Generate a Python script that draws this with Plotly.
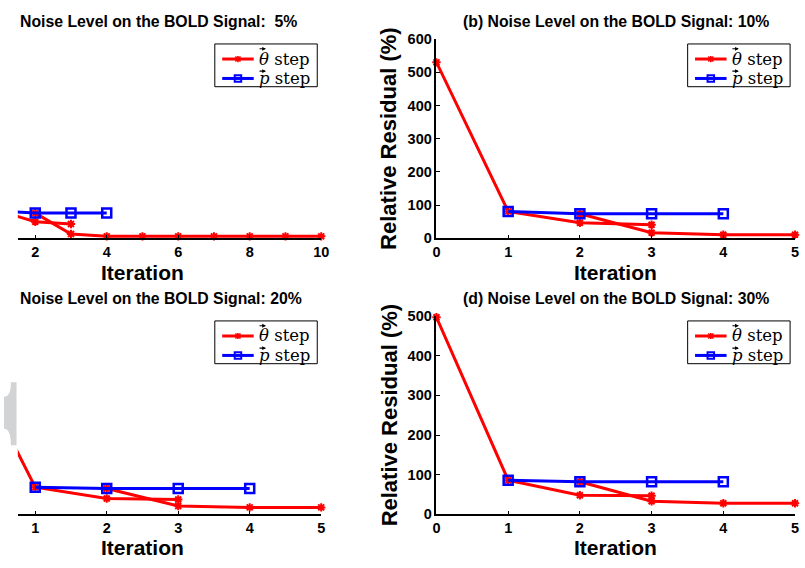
import plotly.graph_objects as go

W, H = 805, 568

# ---------------- data ----------------
# (a) 5% noise
a_theta1_x = [1, 2, 3]
a_theta1_y = [82, 50, 43]
a_theta2_x = [2, 3, 4, 5, 6, 7, 8, 9, 10]
a_theta2_y = [76, 13, 6, 6, 6, 6, 6, 6, 6]
a_p_x = [1, 2, 3, 4]
a_p_y = [82, 76, 76, 76]
# (b) 10% noise
b_theta1_x = [0, 1, 2, 3]
b_theta1_y = [530, 81, 47, 41]
b_theta2_x = [2, 3, 4, 5]
b_theta2_y = [74, 17, 11, 11]
b_p_x = [1, 2, 3, 4]
b_p_y = [81, 74, 74, 74]
# (c) 20% noise
c_theta1_x = [0, 1, 2, 3]
c_theta1_y = [510, 82, 48, 45]
c_theta2_x = [2, 3, 4, 5]
c_theta2_y = [78, 25, 21, 21]
c_p_x = [1, 2, 3, 4]
c_p_y = [82, 78, 78, 78]
# (d) 30% noise
d_theta1_x = [0, 1, 2, 3]
d_theta1_y = [497, 86, 48, 47]
d_theta2_x = [2, 3, 4, 5]
d_theta2_y = [82, 33, 28, 28]
d_p_x = [1, 2, 3, 4]
d_p_y = [86, 82, 82, 82]

titles = ["Noise Level on the BOLD Signal:  5%",
          "(b) Noise Level on the BOLD Signal: 10%",
          "Noise Level on the BOLD Signal: 20%",
          "(d) Noise Level on the BOLD Signal: 30%"]
a_xticks = [2, 4, 6, 8, 10]
c_xticks = [1, 2, 3, 4, 5]
bd_xticks = [0, 1, 2, 3, 4, 5]
b_yticks = [0, 100, 200, 300, 400, 500, 600]
d_yticks = [0, 100, 200, 300, 400, 500]
theta_name = "<i>θ</i> step"
p_name = "<i>p</i> step"

def px(x):
    return x / W

def py(y):
    return 1 - y / H

RED = "#ff0000"
BLUE = "#0000ff"

fig = go.Figure()

panels = [
    ("x", "y", a_theta1_x, a_theta1_y, a_theta2_x, a_theta2_y, a_p_x, a_p_y),
    ("x2", "y2", b_theta1_x, b_theta1_y, b_theta2_x, b_theta2_y, b_p_x, b_p_y),
    ("x3", "y3", c_theta1_x, c_theta1_y, c_theta2_x, c_theta2_y, c_p_x, c_p_y),
    ("x4", "y4", d_theta1_x, d_theta1_y, d_theta2_x, d_theta2_y, d_p_x, d_p_y),
]

red_marker = dict(symbol="asterisk-open", size=7, color=RED, line=dict(color=RED, width=2))
blue_marker = dict(symbol="square-open", size=9, color=BLUE, line=dict(color=BLUE, width=2.5))

for xa, ya, t1x, t1y, t2x, t2y, ppx, ppy in panels:
    fig.add_trace(go.Scatter(x=t1x, y=t1y, mode="lines+markers", name="θ step",
                             line=dict(color=RED, width=3), marker=red_marker,
                             xaxis=xa, yaxis=ya, cliponaxis=False, showlegend=False))
    fig.add_trace(go.Scatter(x=t2x, y=t2y, mode="lines+markers", name="θ step",
                             line=dict(color=RED, width=3), marker=red_marker,
                             xaxis=xa, yaxis=ya, cliponaxis=False, showlegend=False))
    fig.add_trace(go.Scatter(x=ppx, y=ppy, mode="lines+markers", name="p step",
                             line=dict(color=BLUE, width=3), marker=blue_marker,
                             xaxis=xa, yaxis=ya, cliponaxis=False, showlegend=False))

tickfont = dict(family="Liberation Sans, Arial, sans-serif", size=14.5, color="black", weight="bold")
common = dict(showline=True, linecolor="black", linewidth=1.5, ticks="inside", ticklen=4,
              tickcolor="black", tickwidth=1, showgrid=False, zeroline=False,
              tickfont=tickfont, fixedrange=True)

left_dom = [px(14), px(322)]
right_dom = [px(439), px(803)]
top_dom = [py(237), py(32)]
bot_dom = [py(521), py(317)]

fig.update_layout(
    width=W, height=H, margin=dict(l=0, r=0, t=0, b=0),
    paper_bgcolor="white", plot_bgcolor="white", showlegend=False,
    xaxis=dict(common, domain=left_dom, range=[1.512, 10], tickvals=a_xticks, anchor="y"),
    yaxis=dict(domain=top_dom, range=[0, 600], visible=False, anchor="x"),
    xaxis2=dict(common, domain=right_dom, range=[0, 5], tickvals=bd_xticks, anchor="y2"),
    yaxis2=dict(common, domain=top_dom, range=[0, 600], tickvals=b_yticks, anchor="x2"),
    xaxis3=dict(common, domain=left_dom, range=[0.756, 5], tickvals=c_xticks, anchor="y3"),
    yaxis3=dict(domain=bot_dom, range=[0, 600], visible=False, anchor="x3"),
    xaxis4=dict(common, domain=right_dom, range=[0, 5], tickvals=bd_xticks, anchor="y4"),
    yaxis4=dict(common, domain=bot_dom, range=[0, 500], tickvals=d_yticks, anchor="x4"),
)

bold = "Liberation Sans, Arial, sans-serif"
ann = []
shapes = []

# panel titles
title_pos = [(14, 14, "left"), (621, 14, "center"), (14, 299, "left"), (621, 299, "center")]
for (tx, ty, anc), t in zip(title_pos, titles):
    ann.append(dict(x=px(tx), y=py(ty), text="<b>" + t + "</b>", xanchor=anc, yanchor="middle",
                    xref="paper", yref="paper", showarrow=False,
                    font=dict(family=bold, size=15.8, color="black")))
# axis titles
for cx, cy in [(140.5, 272), (621, 272), (140.5, 555.5), (621, 555.5)]:
    ann.append(dict(x=px(cx), y=py(cy), xref="paper", yref="paper", text="<b>Iteration</b>",
                    showarrow=False, xanchor="center", yanchor="middle",
                    font=dict(family=bold, size=21, color="black")))
for cy in [134.5, 419]:
    ann.append(dict(x=px(391), y=py(cy), xref="paper", yref="paper",
                    text="<b>Relative Residual (%)</b>", textangle=-90,
                    showarrow=False, xanchor="center", yanchor="middle",
                    font=dict(family=bold, size=22, color="black")))

# hand-drawn legends (box, line samples, markers, labels with vector arrows)
legfont = dict(family="DejaVu Serif, Liberation Serif, serif", size=16.5, color="black")

def pline(x0, y0, x1, y1, color, width):
    return dict(type="line", xref="paper", yref="paper", x0=px(x0), y0=py(y0),
                x1=px(x1), y1=py(y1), line=dict(color=color, width=width), layer="above")

def add_legend(lx, ly):
    shapes.append(dict(type="rect", xref="paper", yref="paper", x0=px(lx), y0=py(ly),
                       x1=px(lx + 104), y1=py(ly + 44), fillcolor="white",
                       line=dict(color="black", width=1), layer="above"))
    r1, r2 = ly + 15.5, ly + 35.5
    cx = lx + 23.5
    shapes.append(pline(lx + 7.5, r1, lx + 39.5, r1, RED, 3))
    for dx, dy in [(0, 3.2), (2.6, 2.6), (2.6, -2.6)]:
        shapes.append(pline(cx - dx, r1 - dy, cx + dx, r1 + dy, RED, 1.6))
    shapes.append(pline(lx + 7.5, r2, lx + 39.5, r2, BLUE, 3))
    shapes.append(dict(type="rect", xref="paper", yref="paper", x0=px(cx - 3.3), y0=py(r2 - 3.3),
                       x1=px(cx + 3.3), y1=py(r2 + 3.3), line=dict(color=BLUE, width=2),
                       fillcolor="rgba(0,0,0,0)", layer="above"))
    for r, name, ay_off in [(r1, theta_name, 10.5), (r2, p_name, 7.5)]:
        ann.append(dict(x=px(lx + 42.5), y=py(r), xref="paper", yref="paper", text=name,
                        showarrow=False, xanchor="left", yanchor="middle", font=legfont))
        ann.append(dict(x=px(lx + 52), y=py(r - ay_off), xref="paper", yref="paper", text="",
                        showarrow=True, ax=-8, ay=0, arrowhead=2, arrowsize=0.7,
                        arrowwidth=1.1, arrowcolor="black", standoff=0))

for lx, ly in [(214, 37), (694, 37), (214, 322), (694, 322)]:
    add_legend(lx, ly)

# grey artefact at the left edge of the lower-left panel
path = "M {0},{1} L {2},{1} Q {2},{3} {4},{3} L {4},{5} Q {2},{5} {2},{6} L {0},{6} Z".format(
    px(12.7), py(385), px(7), py(400), px(0), py(433), py(450))
shapes.append(dict(type="path", path=path, xref="paper", yref="paper",
                   fillcolor="#d2d3d5", line=dict(width=0), layer="above"))

fig.update_layout(annotations=ann, shapes=shapes)

fig.write_html("out.html")
